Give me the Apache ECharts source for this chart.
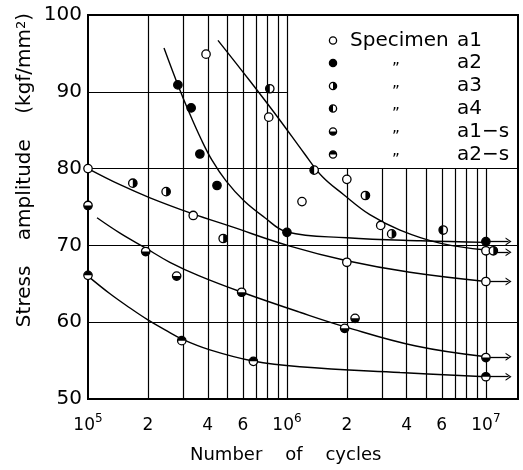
<!DOCTYPE html>
<html><head><meta charset="utf-8">
<script src="https://cdn.jsdelivr.net/npm/echarts@6/dist/echarts.min.js"></script>
<style>html,body{margin:0;padding:0;background:#fff}#c{width:523px;height:470px}</style>
</head><body><div id="c"></div>
<script>
// ---- axis ticks / grid ----
const xTickLabels = [1e5, 2e5, 4e5, 6e5, 1e6, 2e6, 4e6, 6e6, 1e7];
const yTicks = [50, 60, 70, 80, 90, 100];
const vGridTall = [2e5, 3e5, 4e5, 5e5, 6e5, 7e5, 8e5, 9e5, 1e6];
const vGridShort = [2e6, 3e6, 4e6, 5e6, 6e6, 7e6, 8e6, 9e6, 1e7];
const hGridFull = [60, 70, 80];
const hGridPartial = [90];

// ---- specimen data points [cycles, stress] ----
const specA1 = [[3.92e5, 94.9], [8.1e5, 86.7], [1e5, 80.0], [3.38e5, 73.9], [1.19e6, 75.7],
  [2.0e6, 78.6], [2.0e6, 67.8], [2.96e6, 72.6], [1e7, 69.3], [1e7, 65.3]];
const specA2 = [[2.83e5, 90.9], [3.3e5, 87.9], [3.65e5, 81.9], [4.45e5, 77.8], [1e6, 71.7], [1e7, 70.5]];
const specA3 = [[1.68e5, 78.1], [2.47e5, 77.0], [4.78e5, 70.9], [2.48e6, 76.5], [3.36e6, 71.5], [1.09e7, 69.3]];
const specA4 = [[8.2e5, 90.4], [1.37e6, 79.8], [6.1e6, 72.0]];
const specA1s = [[1e5, 75.2], [1.95e5, 69.2], [2.79e5, 66.0], [5.92e5, 63.9], [1.95e6, 59.2], [2.2e6, 60.5], [1e7, 55.4]];
const specA2s = [[1e5, 66.1], [2.96e5, 57.6], [6.78e5, 54.9], [1e7, 52.9]];

// ---- fitted curves ----
const curveA = [[2.41e5, 95.7], [2.83e5, 90.9], [3.25e5, 87.1], [3.7e5, 83.85], [4.2e5, 81.1],
  [4.94e5, 78.4], [6.08e5, 75.8], [7.66e5, 73.7], [1e6, 71.75], [2e6, 71.0], [4.7e6, 70.6], [1e7, 70.4]];
const curveB = [[4.5e5, 96.7], [6.52e5, 91.4], [9.22e5, 86.3], [1.22e6, 82.0], [1.5e6, 79.0],
  [1.93e6, 76.6], [2.61e6, 74.0], [3.7e6, 72.0], [5.87e6, 70.3], [1e7, 69.4]];
const curveC = [[1e5, 80.0], [1.448e5, 77.9], [2.05e5, 76.2], [3.37e5, 74.1], [5.17e5, 72.5],
  [1.035e6, 69.9], [2.0e6, 68.0], [4.15e6, 66.5], [1e7, 65.3]];
const curveD = [[1.11e5, 73.6], [1.448e5, 71.6], [1.934e5, 69.7], [2.58e5, 67.8], [3.65e5, 66.0],
  [5.94e5, 63.9], [1.16e6, 61.3], [1.96e6, 59.4], [4.45e6, 56.9], [1e7, 55.5]];
const curveE = [[1e5, 66.0], [1.29e5, 63.7], [1.626e5, 61.85], [2.0e5, 60.3], [2.44e5, 59.0],
  [2.97e5, 57.8], [4.1e5, 56.4], [6.75e5, 54.95], [1.16e6, 54.2], [3.7e6, 53.45], [1e7, 52.9]];

// ---- run-out arrows (start at runoutStart, end at runoutEnd) ----
const runoutStart = 1e7;
const runoutEnd = 1.3e7;
const runoutStress = [70.5, 69.1, 65.3, 55.5, 52.9];

// ---- legend ----
const legendKinds = ['open', 'full', 'right', 'left', 'bottom', 'top'];
const legendNames = ['a1', 'a2', 'a3', 'a4', 'a1\u2212s', 'a2\u2212s'];

const FONT = 'DejaVu Sans';
const R = 4.2;

function markerChildren(x, y, r, kind, lw) {
  const ch = [{type: 'circle', shape: {cx: x, cy: y, r: r},
    style: {fill: kind === 'full' ? '#000' : '#fff', stroke: '#000', lineWidth: lw}}];
  const ang = {right: [-Math.PI / 2, Math.PI / 2], left: [Math.PI / 2, 3 * Math.PI / 2],
    top: [Math.PI, 2 * Math.PI], bottom: [0, Math.PI]}[kind];
  if (ang) ch.push({type: 'sector', shape: {cx: x, cy: y, r0: 0, r: r, startAngle: ang[0], endAngle: ang[1], clockwise: true},
    style: {fill: '#000'}});
  return ch;
}

function markerSeries(data, kind) {
  return {
    type: 'custom', data: data, clip: false, z: 10, silent: true,
    encode: {x: 0, y: 1},
    renderItem: function (params, api) {
      const p = api.coord([api.value(0), api.value(1)]);
      return {type: 'group', children: markerChildren(p[0], p[1], R, kind, 1.3)};
    }
  };
}

function curveSeries(data) {
  return {type: 'line', data: data, smooth: 0.4, showSymbol: false, silent: true, z: 5,
    lineStyle: {color: '#000', width: 1.4}};
}

const gridLines = [];
vGridTall.forEach(v => gridLines.push([{coord: [v, 50]}, {coord: [v, 100]}]));
vGridShort.forEach(v => gridLines.push([{coord: [v, 50]}, {coord: [v, 80]}]));
hGridFull.forEach(v => gridLines.push([{coord: [1e5, v]}, {coord: [1.45e7, v]}]));
hGridPartial.forEach(v => gridLines.push([{coord: [1e5, v]}, {coord: [1e6, v]}]));

const arrowLines = runoutStress.map(v => [{coord: [runoutStart, v]}, {coord: [runoutEnd, v]}]);

const chevron = 'path://M0,10 L5,0 L10,10 L8.4,10 L5,3.2 L1.6,10 Z';

// legend graphic
const legendY = [40.5, 63, 86, 108.5, 131.5, 154.5];
const graphics = [];
legendKinds.forEach((k, i) => {
  graphics.push({type: 'group', children: markerChildren(333, legendY[i], 3.6, k, 1.3)});
  if (i === 0) {
    graphics.push({type: 'text', x: 350, y: legendY[i], style: {text: 'Specimen', font: '20px ' + FONT, fill: '#000', verticalAlign: 'middle'}});
  } else {
    graphics.push({type: 'text', x: 396, y: legendY[i] + 7, style: {text: '\u201D', font: '15px ' + FONT, fill: '#000', align: 'center', verticalAlign: 'middle'}});
  }
  graphics.push({type: 'text', x: 457, y: legendY[i], style: {text: legendNames[i], font: '20px ' + FONT, fill: '#000', verticalAlign: 'middle'}});
});
// axis titles
graphics.push({type: 'text', x: 25, y: 170, rotation: Math.PI / 2,
  style: {text: 'Stress    amplitude    (kgf/mm{s|2})', font: '20px ' + FONT, fill: '#000', align: 'center', verticalAlign: 'middle',
    rich: {s: {fontSize: 13, fontFamily: FONT, verticalAlign: 'top', lineHeight: 13, fill: '#000'}}}});
graphics.push({type: 'text', x: 190, y: 455,
  style: {text: 'Number    of    cycles', font: '18px ' + FONT, fill: '#000', verticalAlign: 'middle'}});

const option = {
  animation: false,
  backgroundColor: '#fff',
  grid: {left: 88, right: 5, top: 15, bottom: 71, show: true, borderColor: '#000', borderWidth: 2, containLabel: false},
  xAxis: {
    type: 'log', logBase: 10, min: 1e5, max: 1.45e7,
    axisLine: {show: true, lineStyle: {color: '#000', width: 2}},
    axisTick: {show: false},
    splitLine: {show: false},
    minorSplitLine: {show: false},
    axisLabel: {
      customValues: xTickLabels,
      margin: 14,
      color: '#000',
      formatter: function (v) {
        const e = Math.floor(Math.log10(v) + 1e-9);
        const m = Math.round(v / Math.pow(10, e));
        if (m === 1) return '{b|10}{s|' + e + '}';
        return '{b|' + m + '}';
      },
      rich: {
        b: {fontSize: 17, fontFamily: FONT, color: '#000', lineHeight: 26},
        s: {fontSize: 12, fontFamily: FONT, color: '#000', verticalAlign: 'top', lineHeight: 12}
      }
    }
  },
  yAxis: {
    type: 'value', min: 50, max: 100, interval: 10,
    axisLine: {show: true, lineStyle: {color: '#000', width: 2}},
    axisTick: {show: false},
    splitLine: {show: false},
    axisLabel: {customValues: yTicks, fontSize: 20, fontFamily: FONT, color: '#000', margin: 6}
  },
  graphic: graphics,
  series: [
    {type: 'line', data: [[1e5, 50]], showSymbol: false, silent: true, lineStyle: {width: 0}, z: 2,
      markLine: {silent: true, symbol: ['none', 'none'], label: {show: false}, animation: false,
        lineStyle: {color: '#000', width: 1.2, type: 'solid'}, emphasis: {disabled: true}, data: gridLines}},
    {type: 'line', data: [[1e7, 50]], showSymbol: false, silent: true, lineStyle: {width: 0}, z: 4,
      markLine: {silent: true, symbol: ['none', chevron], symbolSize: [8, 6], label: {show: false}, animation: false,
        lineStyle: {color: '#000', width: 1.3, type: 'solid'}, itemStyle: {color: '#000'}, emphasis: {disabled: true}, data: arrowLines}},
    curveSeries(curveA), curveSeries(curveB), curveSeries(curveC), curveSeries(curveD), curveSeries(curveE),
    markerSeries(specA1, 'open'), markerSeries(specA2, 'full'), markerSeries(specA3, 'right'),
    markerSeries(specA4, 'left'), markerSeries(specA1s, 'bottom'), markerSeries(specA2s, 'top')
  ]
};
const chart = echarts.init(document.getElementById('c'), null, {renderer: 'canvas'});
chart.setOption(option);
</script></body></html>
